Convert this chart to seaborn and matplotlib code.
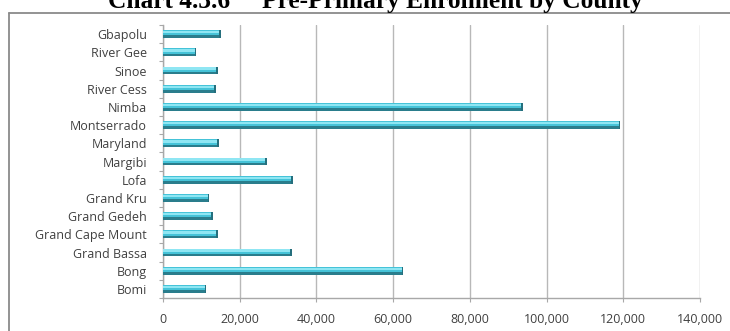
import matplotlib
matplotlib.use("Agg")
import matplotlib.pyplot as plt
from matplotlib.lines import Line2D
from matplotlib.patches import Rectangle
from matplotlib.ticker import FuncFormatter, FixedLocator
import seaborn as sns
import pandas as pd

# Pre-primary enrolment per county (listed top to bottom)
counties = ["Gbapolu", "River Gee", "Sinoe", "River Cess", "Nimba", "Montserrado",
            "Maryland", "Margibi", "Lofa", "Grand Kru", "Grand Gedeh",
            "Grand Cape Mount", "Grand Bassa", "Bong", "Bomi"]
enrolment = [15000, 8700, 14300, 13700, 93800, 119200,
             14600, 27000, 33900, 12100, 13000,
             14300, 33600, 62700, 11300]
x_ticks = [0, 20000, 40000, 60000, 80000, 100000, 120000, 140000]
title = "Chart 4.3.6     Pre-Primary Enrolment by County"

sns.set_theme(style="white")
plt.rcParams["font.family"] = ["Open Sans", "DejaVu Sans"]

W, H = 730, 331
fig = plt.figure(figsize=(W / 100, H / 100), dpi=100)
ax = fig.add_axes([163 / W, 1 - 298 / H, (700 - 163) / W, (298 - 25) / H])

df = pd.DataFrame({"County": counties, "Enrolment": enrolment})
mid = "#45c3d8"
light = "#8fe6f3"
dark = "#2a7d8c"
sns.barplot(data=df, x="Enrolment", y="County", orient="h", color=mid,
            saturation=1, width=0.42, edgecolor="none", ax=ax, zorder=3)

ax.set_xlim(0, 140000)
ax.set_ylim(len(counties) - 0.5, -0.5)

# cylinder shading on each bar
px = 140000 / (700 - 163)
for p in list(ax.patches):
    x0, y0 = p.get_x(), p.get_y()
    w, h = p.get_width(), p.get_height()
    ax.add_patch(Rectangle((x0, y0 + h * 0.1), w, h * 0.3, color=light,
                           lw=0, zorder=4))
    ax.add_patch(Rectangle((x0, y0 + h * 0.68), w, h * 0.32, color=dark,
                           lw=0, zorder=4))
    ax.add_patch(Rectangle((x0 + w - 1.6 * px, y0), 1.6 * px, h, color="#256f7d",
                           lw=0, zorder=5))

ax.set_xticks(x_ticks)
ax.xaxis.set_major_formatter(FuncFormatter(lambda v, _: f"{v:,.0f}"))
ax.xaxis.grid(True, color="#b8b8b8", lw=1)
ax.set_axisbelow(True)
ax.set_xlabel("")
ax.set_ylabel("")

for side in ["top", "right"]:
    ax.spines[side].set_visible(False)
for side in ["left", "bottom"]:
    ax.spines[side].set_color("#a8a8a8")
    ax.spines[side].set_linewidth(1)

ax.yaxis.set_minor_locator(FixedLocator([i - 0.5 for i in range(len(counties) + 1)]))
ax.tick_params(axis="y", which="major", length=0, pad=11.5, labelsize=9,
               labelcolor="#404040")
ax.tick_params(axis="y", which="minor", left=True, length=3, width=0.8,
               color="#a8a8a8", direction="out")
ax.tick_params(axis="x", which="major", bottom=True, length=3, width=0.8,
               color="#a8a8a8", direction="out", pad=8, labelsize=9,
               labelcolor="#404040")

# frame around the chart area
bx, by = 8.5 / W, 1 - 12.5 / H
fig.add_artist(Line2D([bx, bx], [0, by], color="#8a8a8a", lw=1.3))
fig.add_artist(Line2D([bx, 1], [by, by], color="#8a8a8a", lw=1.3))

fig.text(375 / W, 1 - 8 / H, title, ha="center", va="baseline", fontsize=18.3,
         fontweight="bold", family="Liberation Serif", color="black")

fig.savefig("out.png", dpi=100)
